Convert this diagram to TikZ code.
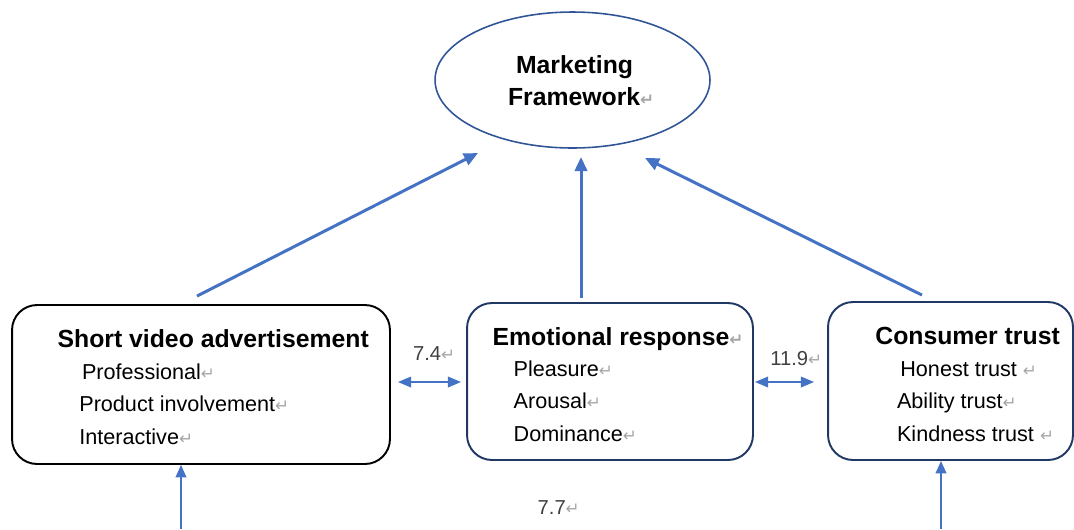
\documentclass[tikz,border=0pt]{standalone}
\usepackage{fontspec}
\setmainfont{Liberation Sans}
\newfontfamily\retfont{DejaVu Sans}
\usetikzlibrary{arrows.meta,shapes.geometric}

\definecolor{flowblue}{HTML}{4472C4}
\definecolor{boxnavy}{HTML}{203864}
\definecolor{ovalblue}{HTML}{2F5597}
\definecolor{retgray}{HTML}{A6A6A6}
\definecolor{numgray}{HTML}{404040}

% paragraph mark after a line
\newcommand{\ret}{{\retfont\fontsize{9.5}{11}\selectfont\color{retgray}\char"21B5}}

\tikzset{
  card/.style={draw, line width=1.1pt, rounded corners=0.5cm},
  head/.style={inner sep=0pt, anchor=base west, font=\fontsize{14.1}{16}\selectfont\bfseries},
  item/.style={inner sep=0pt, anchor=base west, font=\fontsize{12.3}{14}\selectfont},
  num/.style={inner sep=0pt, anchor=base west, text=numgray, font=\fontsize{11.5}{13}\selectfont},
  flow/.style={draw=flowblue, line width=1.7pt, -{Triangle[length=8pt,width=7pt]}},
  link/.style={draw=flowblue, line width=1.1pt, {Triangle[length=7.5pt,width=6pt]}-{Triangle[length=7.5pt,width=6pt]}},
  feed/.style={draw=flowblue, line width=1.1pt, -{Triangle[length=7pt,width=6pt]}}
}

\begin{document}
\begin{tikzpicture}[x=0.02cm, y=-0.02cm]
  \useasboundingbox (0,0) rectangle (1074,529);

  % oval on top
  \node[ellipse, draw=ovalblue, line width=0.9pt, minimum width=5.5cm, minimum height=2.72cm] (mf) at (572.5,80) {};
  \node[head] (mf1) at (515.7,73.3) {Marketing};
  \node[head] (mf2) at (507.7,105.7) {Framework\ret};

  % the three boxes
  \node[card, draw=black, minimum width=7.56cm, minimum height=3.18cm] (sva) at (201,384.5) {};
  \node[card, draw=boxnavy, minimum width=5.72cm, minimum height=3.14cm] (er) at (610,381.5) {};
  \node[card, draw=boxnavy, minimum width=4.9cm, minimum height=3.16cm] (ct) at (950.5,381) {};

  % box texts
  \node[head] (sva0) at (57.3,347) {Short video advertisement};
  \node[item] (sva1) at (81.7,379) {Professional\ret};
  \node[item] (sva2) at (79,411) {Product involvement\ret};
  \node[item] (sva3) at (79,444) {Interactive\ret};

  \node[head] (er0) at (492.3,345) {Emotional response\ret};
  \node[item] (er1) at (513.3,376.7) {Pleasure\ret};
  \node[item] (er2) at (513.3,408.3) {Arousal\ret};
  \node[item] (er3) at (513.3,441.7) {Dominance\ret};

  \node[head] (ct0) at (875,344) {Consumer trust};
  \node[item] (ct1) at (900,376) {Honest trust \ret};
  \node[item] (ct2) at (896.7,408.3) {Ability trust\ret};
  \node[item] (ct3) at (896.7,441.7) {Kindness trust \ret};

  % values
  \node[num] (v1) at (412.7,360) {7.4\ret};
  \node[num] (v2) at (770,365) {11.9\ret};
  \node[num] (v3) at (537.3,514) {7.7\ret};

  % arrow tips under the oval
  \coordinate (tipL) at (478,153);
  \coordinate (tipM) at (581,157);
  \coordinate (tipR) at (645,158);
  % free ends at the bottom
  \coordinate (inL) at (181,529);
  \coordinate (inR) at (941,529);

  % into the oval
  \draw[flow] (sva.north) ++(-4,-8) -- (tipL);
  \draw[flow] (er.north) ++(-29,-4) -- (tipM);
  \draw[flow] (ct.north) ++(-28.5,-6) -- (tipR);

  % between the boxes
  \draw[link, shorten <=0.14cm, shorten >=0.1cm] (sva.east |- 0,382) -- (er.west |- 0,382);
  \draw[link, shorten <=0.02cm, shorten >=0.26cm] (er.east |- 0,382) -- (ct.west |- 0,382);

  % from below
  \draw[feed] (inL) -- (inL |- sva.south);
  \draw[feed] (inR) -- (inR |- ct.south);
\end{tikzpicture}
\end{document}
